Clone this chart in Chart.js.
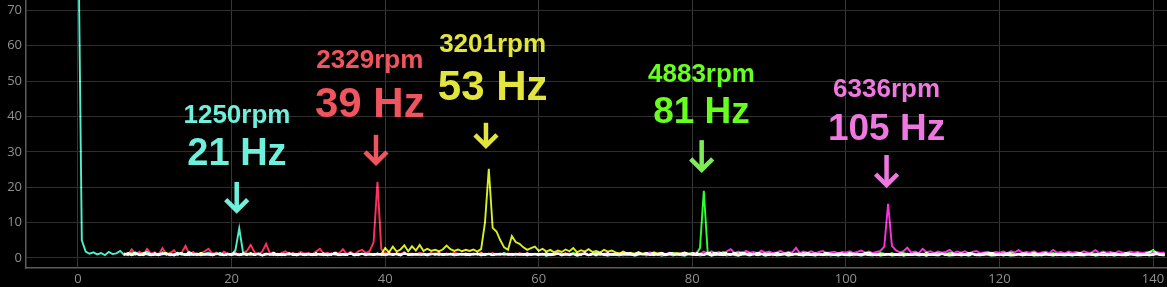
<!DOCTYPE html>
<html>
<head>
<meta charset="utf-8">
<script src="https://cdn.jsdelivr.net/npm/chart.js@4"></script>
<style>
  html, body { margin: 0; padding: 0; background: #000; }
  #wrap { width: 1167px; height: 287px; }
</style>
</head>
<body>
<div id="wrap"><canvas id="spectrum"></canvas></div>
<script>
// frequency bins, 0.5 Hz apart (0 .. 141.5 Hz)
const freqs = Array.from({ length: 284 }, (_, i) => i * 0.5);

const xTicks = [0, 20, 40, 60, 80, 100, 120, 140];
const yTicks = [0, 10, 20, 30, 40, 50, 60, 70];

// amplitude, one row = 10 Hz
const cyan1250 = [
  100, 5.0, 1.8, 1.2, 1.6, 1.0, 1.4, 0.8, 1.7, 1.1, 1.3, 2.0, 0.9, 1.4, 1.0, 1.6, 0.8, 1.2, 1.7, 0.9,
  1.3, 0.8, 1.6, 1.0, 1.2, 0.7, 1.5, 1.1, 0.9, 1.7, 1.0, 1.3, 0.8, 1.2, 1.5, 0.9, 1.1, 1.4, 0.8, 1.2,
  1.0, 2.2, 8.4, 1.5, 0.8, 1.2, 0.9, 1.3, 0.7, 1.1, 1.0, 1.4, 0.8, 1.2, 0.9, 1.3, 1.0, 0.7, 1.2, 0.9,
  1.1, 0.8, 1.3, 0.9, 1.2, 0.7, 1.0, 1.4, 0.8, 1.1, 0.9, 1.3, 0.7, 1.0, 1.2, 0.8, 1.1, 0.9, 1.3, 1.0,
  0.8, 1.2, 0.9, 1.1, 0.7, 1.3, 1.0, 0.8, 1.2, 0.9, 1.1, 0.7, 1.0, 1.3, 0.8, 1.1, 0.9, 1.2, 0.7, 1.0,
  1.2, 0.8, 1.1, 0.9, 1.3, 0.7, 1.0, 1.2, 0.8, 1.1, 0.9, 1.3, 1.0, 0.8, 1.2, 0.9, 1.1, 0.7, 1.0, 1.2,
  0.8, 1.1, 0.6, 1.0, 0.9, 1.2, 0.7, 1.0, 0.8, 1.1, 0.6, 0.9, 1.2, 0.8, 1.0, 0.7, 1.1, 0.9, 0.6, 1.0,
  0.9, 0.7, 1.1, 0.8, 1.0, 0.6, 0.9, 1.2, 0.7, 1.0, 0.8, 1.1, 0.6, 0.9, 1.0, 0.7, 1.1, 0.8, 0.6, 1.0,
  0.8, 1.0, 0.7, 0.9, 1.1, 0.6, 0.9, 0.8, 1.0, 0.7, 1.1, 0.8, 0.6, 1.0, 0.9, 0.7, 1.1, 0.8, 1.0, 0.6,
  0.9, 1.1, 0.7, 0.8, 1.0, 0.6, 0.9, 1.1, 0.8, 0.7, 1.0, 0.9, 0.6, 1.1, 0.8, 1.0, 0.7, 0.9, 0.6, 1.0,
  0.8, 0.7, 1.0, 0.9, 0.6, 1.1, 0.8, 0.7, 1.0, 0.6, 0.9, 1.1, 0.7, 0.8, 1.0, 0.6, 0.9, 0.8, 1.1, 0.7,
  0.9, 0.6, 1.0, 0.8, 0.7, 1.1, 0.9, 0.6, 0.8, 1.0, 0.7, 0.9, 0.6, 1.0, 0.8, 0.7, 1.1, 0.9, 0.6, 0.8,
  1.0, 0.7, 0.9, 0.6, 0.8, 1.1, 0.7, 0.9, 1.0, 0.6, 0.8, 0.7, 1.0, 0.9, 0.6, 1.1, 0.8, 0.7, 0.9, 0.6,
  1.0, 0.8, 0.7, 0.9, 1.1, 0.6, 0.8, 1.0, 0.7, 0.9, 0.6, 1.0, 0.8, 0.7, 1.1, 0.9, 0.6, 0.8, 1.0, 0.7,
  0.9, 1.2, 0.8, 0.7
];

const red2329 = [
  null, null, null, null, null, null, null, null, null, null, null, null, 1.5, 0.8, 2.4, 1.0, 1.8, 0.9, 2.6, 1.2,
  1.6, 0.9, 2.8, 1.1, 1.4, 2.2, 0.8, 1.5, 3.4, 1.0, 1.7, 0.9, 1.3, 1.9, 2.6, 1.1, 1.5, 0.8, 1.8, 1.2,
  1.0, 1.5, 0.8, 1.3, 2.0, 3.7, 1.6, 1.0, 1.8, 4.0, 1.2, 1.6, 0.9, 1.4, 1.9, 1.1, 1.5, 0.9, 1.7, 1.2,
  1.4, 1.0, 1.8, 2.6, 1.2, 1.5, 0.9, 1.6, 1.3, 2.5, 1.1, 1.7, 1.0, 1.9, 2.3, 1.4, 2.0, 4.5, 21.5, 2.5,
  1.2, 1.6, 0.9, 1.4, 1.1, 1.7, 0.8, 1.3, 1.0, 1.5, 1.2, 0.9, 1.4, 1.1, 1.6, 0.8, 1.3, 1.0, 1.5, 1.2,
  0.9, 1.3, 0.7, 1.2, 1.0, 1.5, 0.8, 1.1, 1.4, 0.9, 1.2, 0.7, 1.3, 1.0, 0.8, 1.4, 1.1, 0.9, 1.2, 0.8,
  1.1, 0.9, 1.3, 0.7, 1.0, 1.2, 0.8, 1.4, 0.9, 1.1, 0.7, 1.3, 1.0, 0.8, 1.2, 0.9, 1.5, 0.8, 1.0, 1.2,
  0.9, 1.1, 0.7, 1.3, 1.0, 0.8, 1.2, 0.9, 1.4, 0.8, 1.1, 0.9, 1.3, 0.7, 1.0, 1.2, 0.8, 1.1, 0.9, 1.3,
  1.0, 0.8, 1.2, 0.9, 1.1, 0.7, 1.3, 1.0, 0.8, 1.2, 0.9, 1.1, 0.7, 1.0, 1.2, 0.8, 1.1, 0.9, 1.3, 0.8,
  1.0, 0.7, 1.2, 0.9, 1.1, 0.8, 1.3, 0.9, 1.0, 0.7, 1.2, 0.8, 1.1, 0.9, 1.0, 0.7, 1.3, 0.8, 1.1, 0.9,
  0.8, 1.1, 0.7, 1.0, 1.2, 0.8, 0.9, 1.1, 0.7, 1.0, 0.9, 1.2, 0.8, 1.0, 0.7, 1.1, 0.9, 0.8, 1.2, 0.9,
  1.0, 0.7, 1.1, 0.9, 0.8, 1.2, 0.9, 1.0, 0.7, 1.1, 0.8, 1.0, 0.9, 1.2, 0.7, 1.0, 0.8, 1.1, 0.9, 0.7,
  1.1, 0.8, 1.0, 0.9, 0.7, 1.2, 0.8, 1.0, 0.9, 1.1, 0.7, 1.0, 0.8, 0.9, 1.2, 0.7, 1.0, 0.9, 0.8, 1.1,
  0.9, 0.7, 1.0, 1.2, 0.8, 0.9, 1.1, 0.7, 1.0, 0.8, 1.2, 0.9, 0.7, 1.0, 0.8, 1.1, 0.9, 0.7, 1.0, 0.8,
  1.1, 0.9, 0.8, 1.0
];

const yellow3201 = [
  null, null, null, null, null, null, null, null, null, null, null, null, 1.0, 1.3, 0.8, 1.2, 0.9, 1.4, 1.0, 0.8,
  1.2, 0.9, 1.1, 1.4, 0.8, 1.0, 1.3, 0.9, 1.1, 0.8, 1.2, 1.0, 1.4, 0.9, 1.1, 0.8, 1.3, 1.0, 0.9, 1.2,
  0.9, 1.1, 0.8, 1.2, 1.0, 1.4, 0.9, 1.1, 0.8, 1.3, 1.0, 0.9, 1.2, 0.8, 1.1, 1.3, 0.9, 1.0, 1.2, 0.8,
  1.1, 0.9, 1.3, 1.0, 0.8, 1.2, 1.0, 1.4, 0.9, 1.1, 1.0, 1.3, 0.9, 1.2, 1.1, 1.0, 1.3, 0.9, 1.2, 1.0,
  2.8, 1.6, 3.2, 1.8, 2.4, 3.6, 1.9, 3.3, 2.1, 3.7, 2.0, 2.6, 2.0, 2.3, 1.9, 2.4, 3.5, 2.5, 2.0, 2.4,
  1.9, 2.3, 2.0, 2.4, 1.8, 2.5, 10.0, 25.2, 8.5, 7.5, 5.0, 3.0, 2.3, 6.2, 4.5, 4.0, 3.0, 2.3, 2.8, 3.2,
  2.0, 2.6, 1.8, 2.3, 1.6, 2.1, 1.7, 2.4, 1.9, 2.8, 1.6, 2.2, 1.8, 2.5, 1.7, 2.0, 1.5, 2.3, 1.8, 2.1,
  1.6, 1.2, 1.8, 1.3, 1.5, 1.1, 1.7, 1.2, 1.4, 1.0, 1.6, 1.2, 1.5, 1.1, 1.3, 1.0, 1.4, 1.2, 1.5, 1.1,
  1.3, 1.0, 1.2, 0.9, 1.4, 1.1, 1.0, 1.3, 0.9, 1.2, 1.0, 1.4, 0.9, 1.1, 1.3, 1.0, 1.2, 0.9, 1.1, 1.3,
  1.0, 1.2, 0.9, 1.1, 1.3, 1.0, 0.9, 1.2, 1.0, 1.4, 0.9, 1.1, 1.0, 1.2, 0.9, 1.3, 1.0, 1.1, 0.9, 1.2,
  1.0, 0.9, 1.2, 1.1, 0.9, 1.3, 1.0, 1.1, 0.9, 1.2, 1.0, 0.9, 1.3, 1.0, 1.1, 0.9, 1.2, 1.0, 0.9, 1.1,
  1.2, 0.9, 1.0, 1.1, 0.9, 1.3, 1.0, 0.9, 1.2, 1.0, 1.1, 0.9, 1.0, 1.2, 0.9, 1.1, 1.0, 1.3, 0.9, 1.0,
  1.1, 0.9, 1.2, 1.0, 0.9, 1.1, 1.0, 1.2, 0.9, 1.0, 1.1, 0.9, 1.3, 1.0, 0.9, 1.1, 1.0, 0.9, 1.2, 1.0,
  0.9, 1.1, 1.0, 1.2, 0.9, 1.0, 1.1, 0.9, 1.0, 1.2, 0.9, 1.1, 1.0, 0.9, 1.2, 1.0, 1.1, 0.9, 1.0, 1.1,
  1.0, 1.2, 0.9, 1.0
];

const green4883 = [
  null, null, null, null, null, null, null, null, null, null, null, null, 1.2, 0.9, 1.4, 1.0, 1.2, 0.8, 1.3, 1.0,
  0.9, 1.2, 1.0, 1.3, 0.8, 1.1, 1.0, 1.4, 0.9, 1.2, 1.0, 0.8, 1.3, 1.1, 0.9, 1.2, 1.0, 1.3, 0.8, 1.1,
  1.0, 1.2, 0.9, 1.1, 1.3, 0.8, 1.0, 1.2, 0.9, 1.1, 1.0, 1.3, 0.8, 1.1, 1.0, 0.9, 1.2, 1.0, 1.1, 0.9,
  1.2, 1.0, 0.9, 1.1, 1.3, 0.9, 1.0, 1.2, 0.8, 1.1, 1.0, 1.2, 0.9, 1.0, 1.3, 0.9, 1.1, 1.0, 0.8, 1.2,
  1.0, 1.1, 0.9, 1.2, 1.0, 1.3, 0.9, 1.1, 1.0, 0.8, 1.2, 1.0, 1.1, 0.9, 1.3, 1.0, 0.9, 1.2, 1.0, 1.1,
  0.9, 1.2, 1.0, 1.1, 0.9, 1.3, 1.0, 1.2, 0.9, 1.1, 1.0, 1.4, 0.9, 1.1, 1.2, 1.0, 0.9, 1.3, 1.0, 1.1,
  1.2, 1.0, 1.4, 0.9, 1.1, 1.3, 1.0, 1.2, 0.9, 1.5, 1.1, 1.0, 1.3, 0.9, 1.2, 1.4, 1.0, 1.1, 1.3, 0.9,
  1.2, 1.0, 1.4, 1.1, 0.9, 1.3, 1.5, 1.0, 1.2, 1.1, 1.4, 0.9, 1.3, 1.0, 1.2, 1.5, 1.1, 1.0, 1.3, 1.2,
  1.4, 1.1, 2.8, 19.0, 1.6, 1.2, 1.5, 1.1, 1.7, 1.3, 1.0, 1.4, 1.2, 1.6, 1.1, 1.3, 1.0, 1.5, 1.2, 1.1,
  1.3, 1.0, 1.4, 1.2, 1.1, 1.5, 1.0, 1.3, 1.2, 1.0, 1.4, 1.1, 1.3, 1.0, 1.2, 1.5, 1.1, 1.0, 1.3, 1.2,
  1.0, 1.4, 1.1, 1.2, 1.0, 1.3, 1.5, 1.1, 1.0, 1.4, 1.2, 1.1, 1.3, 1.0, 1.2, 1.4, 1.1, 1.0, 1.3, 1.2,
  1.1, 1.4, 1.0, 1.2, 1.3, 1.1, 1.0, 1.5, 1.2, 1.1, 1.3, 1.0, 1.4, 1.2, 1.1, 1.0, 1.3, 1.2, 1.5, 1.1,
  1.0, 1.3, 1.2, 1.4, 1.1, 1.0, 1.3, 1.2, 1.1, 1.5, 1.0, 1.2, 1.3, 1.1, 1.4, 1.0, 1.2, 1.1, 1.3, 1.0,
  1.2, 1.4, 1.1, 1.0, 1.3, 1.2, 1.1, 1.5, 1.0, 1.2, 1.3, 1.1, 1.0, 1.4, 1.2, 1.1, 1.3, 1.0, 1.2, 1.6,
  2.3, 1.3, 1.1, 1.2
];

const magenta6336 = [
  null, null, null, null, null, null, null, null, null, null, null, null, 0.9, 1.1, 0.8, 1.2, 1.0, 0.9, 1.1, 0.8,
  1.0, 0.8, 1.2, 0.9, 1.1, 0.7, 1.0, 1.3, 0.8, 1.1, 0.9, 1.2, 0.8, 1.0, 1.1, 0.7, 1.2, 0.9, 1.0, 0.8,
  1.1, 0.9, 1.2, 0.8, 1.0, 1.3, 0.9, 1.1, 0.7, 1.0, 1.2, 0.8, 1.1, 0.9, 1.0, 1.3, 0.8, 1.1, 0.9, 1.2,
  0.9, 1.1, 0.8, 1.2, 1.0, 0.9, 1.3, 0.8, 1.1, 1.0, 0.9, 1.2, 1.0, 0.8, 1.1, 1.3, 0.9, 1.0, 1.2, 0.8,
  1.1, 0.9, 1.2, 1.0, 0.8, 1.3, 1.0, 1.1, 0.9, 1.2, 0.8, 1.0, 1.3, 0.9, 1.1, 1.0, 1.2, 0.8, 1.1, 0.9,
  1.2, 1.0, 0.9, 1.3, 1.1, 0.8, 1.2, 1.0, 0.9, 1.1, 1.3, 0.9, 1.0, 1.2, 0.8, 1.1, 1.0, 1.4, 0.9, 1.1,
  1.0, 1.3, 0.9, 1.2, 1.1, 1.4, 1.0, 0.9, 1.3, 1.1, 1.2, 1.0, 1.5, 0.9, 1.1, 1.3, 1.0, 1.2, 1.4, 1.0,
  1.1, 1.3, 1.0, 1.5, 1.2, 1.0, 1.4, 1.1, 1.3, 1.6, 1.0, 1.2, 1.4, 1.1, 1.5, 1.2, 1.0, 1.3, 1.6, 1.1,
  1.2, 1.5, 1.1, 1.8, 1.3, 1.9, 1.4, 1.7, 1.2, 1.9, 2.5, 1.4, 1.8, 1.3, 2.0, 1.5, 1.7, 1.3, 2.1, 1.5,
  1.8, 1.4, 1.6, 2.0, 1.3, 1.7, 1.5, 2.9, 1.4, 1.8, 1.5, 1.9, 1.3, 1.7, 2.0, 1.4, 1.6, 1.8, 1.3, 1.7,
  1.5, 1.9, 1.4, 1.7, 2.1, 1.5, 1.8, 1.4, 1.7, 2.0, 3.2, 15.3, 3.4, 2.2, 1.6, 1.9, 2.9, 1.5, 1.8, 1.4,
  2.6, 1.6, 1.9, 1.4, 1.8, 1.5, 1.7, 2.3, 1.4, 1.8, 1.5, 1.9, 1.3, 1.7, 2.0, 1.4, 1.6, 1.8, 1.3, 1.7,
  1.5, 1.8, 1.4, 1.9, 1.6, 2.2, 1.4, 1.7, 1.5, 1.9, 1.3, 1.6, 1.8, 1.4, 2.3, 1.5, 1.7, 1.3, 1.8, 1.5,
  1.7, 1.4, 1.9, 1.5, 1.6, 2.2, 1.4, 1.8, 1.5, 1.7, 1.3, 1.9, 1.6, 1.4, 1.8, 1.5, 1.7, 1.4, 1.6, 1.8,
  1.5, 1.7, 1.4, 1.6
];

const seriesNames = ['1250rpm', '2329rpm', '3201rpm', '4883rpm', '6336rpm'];
const hzLabels = ['21 Hz', '39 Hz', '53 Hz', '81 Hz', '105 Hz'];
const lineColors = ['#4ff0c8', '#ff3060', '#d8f020', '#30ff30', '#ff30e0'];
const textColors = ['#6ff0dc', '#f0555f', '#e2e63c', '#66ff1e', '#ee78e0'];
const arrowColors = ['#6ff0dc', '#f0555f', '#e2e63c', '#7ded55', '#ee78e0'];

// where the callouts sit, in axis units (x = Hz, y = amplitude)
const calloutLayout = [
  { tx: 20.7, ax: 20.67, rpmY: 38.1, hzY: 26.3, hzSize: 38, aTop: 21.5, aBot: 13.1 },
  { tx: 38.0, ax: 38.81, rpmY: 53.6, hzY: 39.9, hzSize: 42, aTop: 34.8, aBot: 26.6 },
  { tx: 54.0, ax: 53.13, rpmY: 58.1, hzY: 44.6, hzSize: 42, aTop: 38.2, aBot: 31.4 },
  { tx: 81.2, ax: 81.22, rpmY: 49.6, hzY: 38.1, hzSize: 37, aTop: 33.3, aBot: 24.6 },
  { tx: 105.3, ax: 105.3, rpmY: 45.4, hzY: 33.3, hzSize: 37, aTop: 29.1, aBot: 20.3 }
];

// lines add up like light where they overlap
const blendPlugin = {
  id: 'blend',
  beforeDatasetsDraw(chart) {
    chart.ctx.save();
    chart.ctx.globalCompositeOperation = 'lighter';
  },
  afterDatasetsDraw(chart) {
    chart.ctx.restore();
  }
};

const calloutPlugin = {
  id: 'callouts',
  afterDraw(chart) {
    const ctx = chart.ctx;
    const xs = chart.scales.x, ys = chart.scales.y;
    ctx.save();
    ctx.textAlign = 'center';
    ctx.textBaseline = 'alphabetic';
    calloutLayout.forEach((c, i) => {
      const tx = xs.getPixelForValue(c.tx);
      ctx.fillStyle = textColors[i];
      ctx.font = 'bold 26px "Liberation Sans", Arial, sans-serif';
      ctx.fillText(seriesNames[i], tx, ys.getPixelForValue(c.rpmY));
      ctx.font = 'bold ' + c.hzSize + 'px "Liberation Sans", Arial, sans-serif';
      ctx.fillText(hzLabels[i], tx, ys.getPixelForValue(c.hzY));

      //arrow pointing down at the peak
      const ax = xs.getPixelForValue(c.ax);
      const top = ys.getPixelForValue(c.aTop);
      const bot = ys.getPixelForValue(c.aBot);
      ctx.strokeStyle = arrowColors[i];
      ctx.lineWidth = 4.5;
      ctx.lineCap = 'butt';
      ctx.lineJoin = 'miter';
      ctx.beginPath();
      ctx.moveTo(ax, top);
      ctx.lineTo(ax, bot - 2);
      ctx.stroke();
      ctx.beginPath();
      ctx.moveTo(ax - 11, bot - 12);
      ctx.lineTo(ax, bot - 1);
      ctx.lineTo(ax + 11, bot - 12);
      ctx.stroke();
    });
    ctx.restore();
  }
};

const spectra = [cyan1250, red2329, yellow3201, green4883, magenta6336];

new Chart(document.getElementById('spectrum'), {
  type: 'line',
  data: {
    labels: freqs,
    datasets: spectra.map((vals, i) => ({
      label: seriesNames[i],
      data: vals,
      borderColor: lineColors[i],
      borderWidth: 1.9,
      pointRadius: 0,
      tension: 0,
      fill: false
    }))
  },
  options: {
    responsive: true,
    maintainAspectRatio: false,
    animation: false,
    layout: { padding: 0 },
    plugins: {
      legend: { display: false },
      tooltip: { enabled: false }
    },
    scales: {
      x: {
        type: 'linear',
        min: -6.77,
        max: 141.82,
        afterBuildTicks: s => { s.ticks = xTicks.map(v => ({ value: v })); },
        afterFit: s => { s.height = 19; s.paddingLeft = 0; s.paddingRight = 0; },
        grid: { color: '#363636', lineWidth: 1, drawTicks: false },
        border: { color: '#5c5c5c', width: 1.5 },
        ticks: {
          color: '#909090',
          padding: 3,
          font: { family: '"Open Sans", sans-serif', size: 13 }
        }
      },
      y: {
        min: -2.83,
        max: 72.9,
        afterBuildTicks: s => { s.ticks = yTicks.map(v => ({ value: v })); },
        afterFit: s => { s.width = 26; s.paddingTop = 0; s.paddingBottom = 0; },
        grid: { color: '#2e2e2e', lineWidth: 1, drawTicks: false },
        border: { color: '#5c5c5c', width: 1.5 },
        ticks: {
          color: '#909090',
          padding: 4,
          font: { family: '"Open Sans", sans-serif', size: 13 }
        }
      }
    }
  },
  plugins: [blendPlugin, calloutPlugin]
});
</script>
</body>
</html>
